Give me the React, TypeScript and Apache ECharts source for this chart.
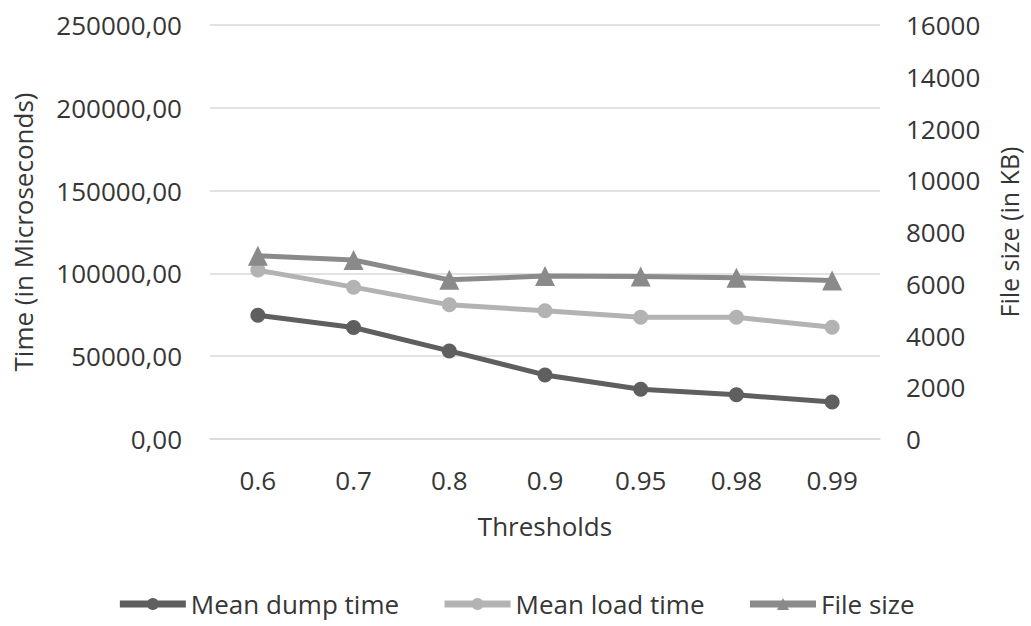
import React, { useEffect, useRef } from "react";
import * as echarts from "echarts";

const thresholds = ["0.6", "0.7", "0.8", "0.9", "0.95", "0.98", "0.99"];
const meanDumpTime = [74700, 67300, 53200, 38700, 30100, 26700, 22300];
const meanLoadTime = [102000, 91700, 81000, 77500, 73500, 73500, 67500];
const fileSize = [7080, 6920, 6150, 6300, 6280, 6230, 6130];

const FONT = "'Open Sans', sans-serif";
const TXT = "#363636";
const FS = 26;

export default function App() {
  const ref = useRef<HTMLDivElement>(null);
  useEffect(() => {
    if (!ref.current) return;
    const chart = echarts.init(ref.current, undefined, { renderer: "svg" });
    chart.setOption({
      animation: false,
      backgroundColor: "#ffffff",
      textStyle: { fontFamily: FONT, color: TXT },
      grid: { left: 210, right: 151, top: 25, bottom: 187, outerBoundsMode: "none", containLabel: false },
      legend: {
        bottom: 4,
        left: "center",
        itemWidth: 66,
        itemHeight: 15,
        itemGap: 42,
        lineStyle: { width: 7 },
        textStyle: { fontFamily: FONT, fontSize: FS, color: TXT },
        data: ["Mean dump time", "Mean load time", "File size"],
      },
      xAxis: {
        type: "category",
        data: thresholds,
        boundaryGap: true,
        name: "Thresholds",
        nameLocation: "middle",
        nameGap: 74,
        nameTextStyle: { fontFamily: FONT, fontSize: FS, color: TXT },
        axisLine: { show: true, lineStyle: { color: "#d9d9d9", width: 1.5 } },
        axisTick: { show: false },
        axisLabel: { margin: 28, fontFamily: FONT, fontSize: FS, color: TXT },
      },
      yAxis: [
        {
          type: "value",
          min: 0,
          max: 250000,
          interval: 50000,
          name: "Time (in Microseconds)",
          nameLocation: "middle",
          nameGap: 174,
          nameRotate: 90,
          nameTextStyle: { fontFamily: FONT, fontSize: FS, color: TXT },
          axisLine: { show: false },
          axisTick: { show: false },
          splitLine: { lineStyle: { color: "#d9d9d9", width: 1.5 } },
          axisLabel: {
            margin: 28,
            fontFamily: FONT,
            fontSize: FS,
            color: TXT,
            formatter: (v: number) => v.toFixed(2).replace(".", ","),
          },
        },
        {
          type: "value",
          min: 0,
          max: 16000,
          interval: 2000,
          name: "File size (in KB)",
          nameLocation: "middle",
          nameGap: 116,
          nameRotate: 90,
          nameTextStyle: { fontFamily: FONT, fontSize: 25, color: TXT },
          axisLine: { show: false },
          axisTick: { show: false },
          splitLine: { show: false },
          axisLabel: {
            margin: 26,
            fontFamily: FONT,
            fontSize: FS,
            color: TXT,
            formatter: (v: number) => String(v),
          },
        },
      ],
      series: [
        {
          name: "Mean dump time",
          type: "line",
          yAxisIndex: 0,
          data: meanDumpTime,
          symbol: "circle",
          symbolSize: 15,
          lineStyle: { width: 5, color: "#5f5f5f" },
          itemStyle: { color: "#5f5f5f" },
        },
        {
          name: "Mean load time",
          type: "line",
          yAxisIndex: 0,
          data: meanLoadTime,
          symbol: "circle",
          symbolSize: 15,
          lineStyle: { width: 5, color: "#b3b3b3" },
          itemStyle: { color: "#b3b3b3" },
        },
        {
          name: "File size",
          type: "line",
          yAxisIndex: 1,
          data: fileSize,
          symbol: "triangle",
          symbolSize: 20,
          lineStyle: { width: 5, color: "#8a8a8a" },
          itemStyle: { color: "#8a8a8a" },
        },
      ],
    });
    return () => chart.dispose();
  }, []);
  return <div ref={ref} style={{ width: 1031, height: 626, position: "absolute", left: 0, top: 0 }} />;
}
